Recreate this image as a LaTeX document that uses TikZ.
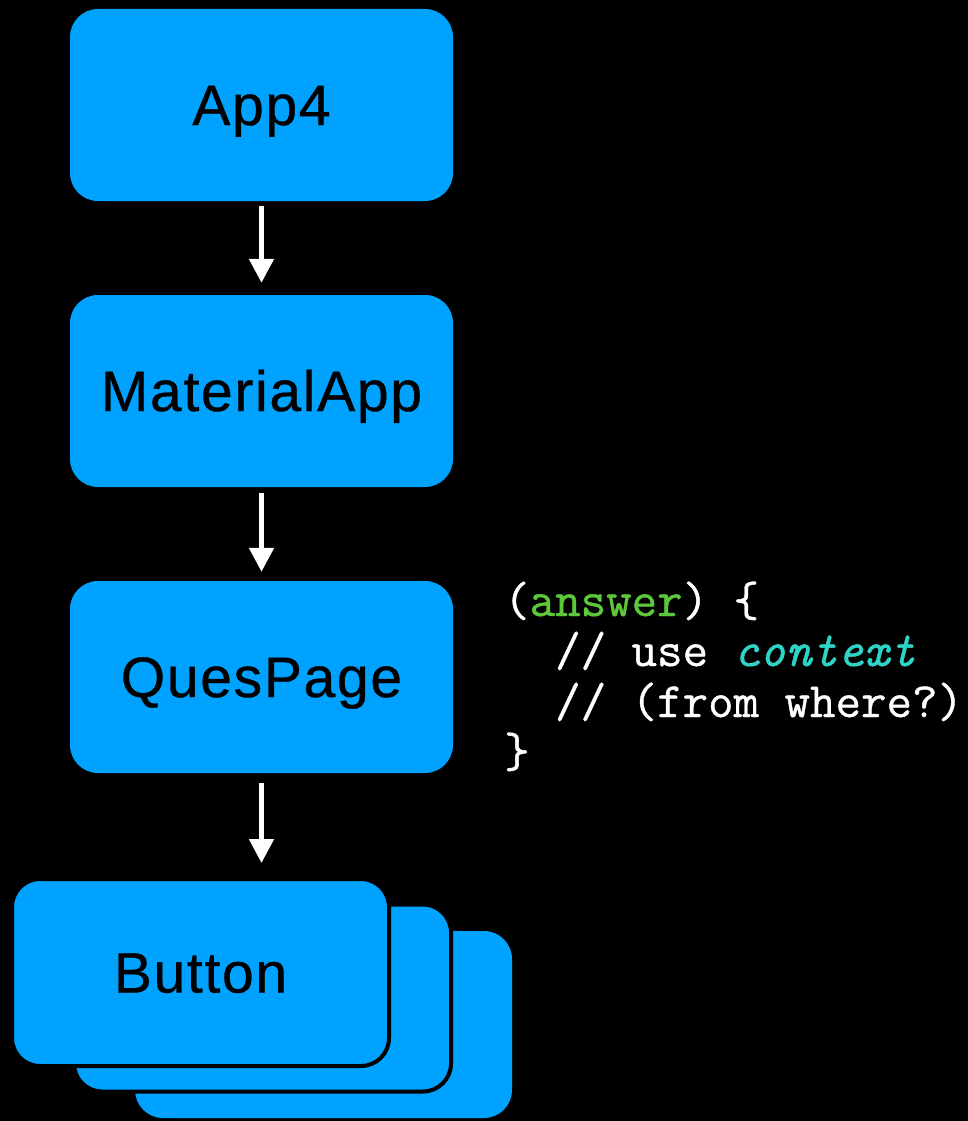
\documentclass[tikz,border=0pt]{standalone}
\usepackage{fontspec}
\setmainfont{Liberation Sans}[FakeBold=0.6]
\setmonofont{Latin Modern Mono}[FakeBold=0.8]
\usetikzlibrary{arrows.meta}
\definecolor{boxblue}{RGB}{0,162,255}
\definecolor{codegreen}{RGB}{93,201,58}
\definecolor{codecyan}{RGB}{46,213,198}
\tikzset{
  widget/.style={fill=boxblue, rounded corners=28pt, minimum width=383pt, minimum height=192pt,
    inner sep=0pt, text=black, text height=40pt, text depth=0pt,
    font=\addfontfeature{LetterSpace=3}\fontsize{57}{60}\selectfont},
  stackbox/.style={widget, minimum width=377pt, minimum height=187pt},
  outlined/.style={draw=black, line width=4pt},
  flow/.style={draw=white, line width=5pt, -{Triangle[width=24pt,length=24pt]}},
  code/.style={anchor=base west, inner sep=0pt, text=white, font=\ttfamily\fontsize{49.5}{50}\selectfont}
}
\begin{document}
\begin{tikzpicture}[x=1pt,y=-1pt]
\fill[black] (0,0) rectangle (968,1121);
\useasboundingbox (0,0) rectangle (968,1121);

% widget tree
\node[widget] (app) at (261.5,105) {App4};
\node[widget] (mat) at (261.5,391) {MaterialApp};
\node[widget] (ques) at (261.5,677) {QuesPage};

% stack of buttons
\node[stackbox] (btn3) at (323.5,1024.5) {};
\node[stackbox, outlined] (btn2) at (262.5,998) {};
\node[stackbox, outlined] (btn1) at (200.5,972.5) {Button};

% parent to child arrows
\draw[flow] ([yshift=-5pt]app.south) -- ([yshift=12pt]mat.north);
\draw[flow] ([yshift=-6pt]mat.south) -- ([yshift=9pt]ques.north);
\coordinate (btntop) at (ques.south |- btn1.north);
\draw[flow] ([yshift=-10pt]ques.south) -- ([yshift=14pt]btntop);

% callback code
\node[code] (c1) at (504,616) {(\textcolor{codegreen}{answer}) \{};
\node[code] (c2) at (504,666) {\hphantom{xx}// use \textcolor{codecyan}{\itshape context}};
\node[code] (c3) at (504,717) {\hphantom{xx}// (from where?)};
\node[code] (c4) at (504,767) {\}};
\end{tikzpicture}
\end{document}
